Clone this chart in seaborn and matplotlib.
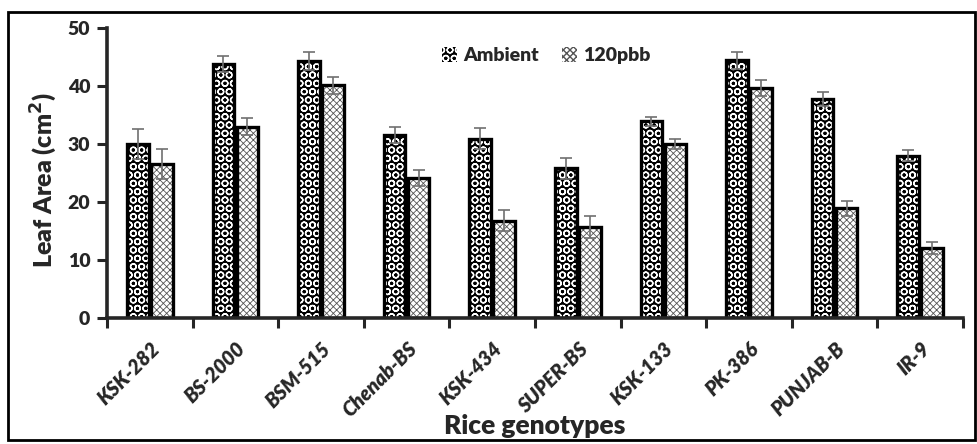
import matplotlib
matplotlib.use("Agg")
import matplotlib.pyplot as plt
import seaborn as sns
import pandas as pd
import numpy as np
from matplotlib.patches import Patch, Rectangle
from matplotlib.ticker import FixedLocator

genotypes = ["KSK-282", "BS-2000", "BSM-515", "Chenab-BS", "KSK-434",
             "SUPER-BS", "KSK-133", "PK-386", "PUNJAB-B", "IR-9"]
ambient = [30.0, 43.8, 44.3, 31.5, 30.9, 25.8, 33.9, 44.4, 37.7, 28.0]
ambient_err = [2.6, 1.4, 1.5, 1.4, 1.8, 1.8, 0.8, 1.4, 1.2, 1.0]
ozone = [26.5, 33.0, 40.1, 24.1, 16.8, 15.7, 30.0, 39.7, 18.9, 12.1]
ozone_err = [2.6, 1.4, 1.5, 1.4, 1.8, 1.9, 0.8, 1.4, 1.3, 1.0]
series = ["Ambient", "120pbb"]

sns.set_style("ticks")
plt.rcParams["font.family"] = ["Lato", "DejaVu Sans"]
plt.rcParams["hatch.linewidth"] = 1.0

df = pd.DataFrame({
    "genotype": genotypes * 2,
    "treatment": [series[0]] * len(genotypes) + [series[1]] * len(genotypes),
    "area": ambient + ozone,
})

fig = plt.figure(figsize=(9.78, 4.44), dpi=100)
ax = fig.add_axes([0.1094, 0.2838, 0.9847 - 0.1094, 0.9369 - 0.2838])

sns.barplot(data=df, x="genotype", y="area", hue="treatment", order=genotypes,
            hue_order=series, width=0.56, gap=0.1, errorbar=None, ax=ax,
            legend=False, linewidth=0)

n = len(genotypes)
patches = ax.patches[:2 * n]
errs = ambient_err + ozone_err
vals = ambient + ozone


def style(p, kind):
    if kind == 0:
        p.set_facecolor("black")
        p.set_edgecolor("white")
        p.set_hatch("OO")
    else:
        p.set_facecolor("white")
        p.set_edgecolor("#555555")
        p.set_hatch("xxxxx")
        try:
            p.set_hatch_linewidth(0.6)
        except Exception:
            pass
    p.set_linewidth(0)


for i, p in enumerate(patches):
    style(p, 0 if i < n else 1)
    outline = Rectangle((p.get_x(), p.get_y()), p.get_width(), p.get_height(),
                        fill=False, edgecolor="black", linewidth=2.4, zorder=p.get_zorder() + 0.1)
    ax.add_patch(outline)
    cx = p.get_x() + p.get_width() / 2
    ax.errorbar(cx, vals[i], yerr=errs[i], color="#707070", capsize=4,
                elinewidth=1.2, capthick=1.2, zorder=5)

ax.set_ylim(0, 50)
ax.set_xlim(-0.5, n - 0.5)
ax.set_yticks([0, 10, 20, 30, 40, 50])
ax.tick_params(axis="y", labelsize=14, width=2.2, length=7, pad=5)
for t in ax.get_yticklabels():
    t.set_fontweight("heavy")

ax.set_xticks(range(n))
ax.set_xticklabels(genotypes, rotation=45, ha="right", rotation_mode="anchor",
                   fontsize=14.5, fontweight="heavy", fontstyle="italic")
ax.tick_params(axis="x", which="major", length=0, pad=15)
ax.xaxis.set_minor_locator(FixedLocator(np.arange(-0.5, n, 1.0)))
ax.tick_params(axis="x", which="minor", length=7, width=2.2)

ax.set_ylabel("Leaf Area (cm$^\\mathbf{2}$)", fontsize=18, fontweight="heavy")
ax.yaxis.set_label_coords(-0.056, 0.476)
ax.set_xlabel("Rice genotypes", fontsize=19, fontweight="heavy")
ax.xaxis.set_label_coords(0.5, -0.33)

for s in ["top", "right"]:
    ax.spines[s].set_visible(False)
for s in ["left", "bottom"]:
    ax.spines[s].set_linewidth(2.6)

h0 = Patch(facecolor="black", edgecolor="white", hatch="OO", linewidth=0)
h1 = Patch(facecolor="white", edgecolor="#555555", hatch="xxxxx", linewidth=0)
leg = ax.legend([h0, h1], series, loc="center", bbox_to_anchor=(0.513, 0.905), ncol=2,
                frameon=False, prop={"weight": "heavy", "size": 14},
                handlelength=0.8, handleheight=0.8, handletextpad=0.3, columnspacing=1.2)

border = Rectangle((0.008, 0.01), 0.989, 0.962, transform=fig.transFigure, fill=False,
                   edgecolor="black", linewidth=2)
fig.patches.append(border)

fig.savefig("out.png", dpi=100)
